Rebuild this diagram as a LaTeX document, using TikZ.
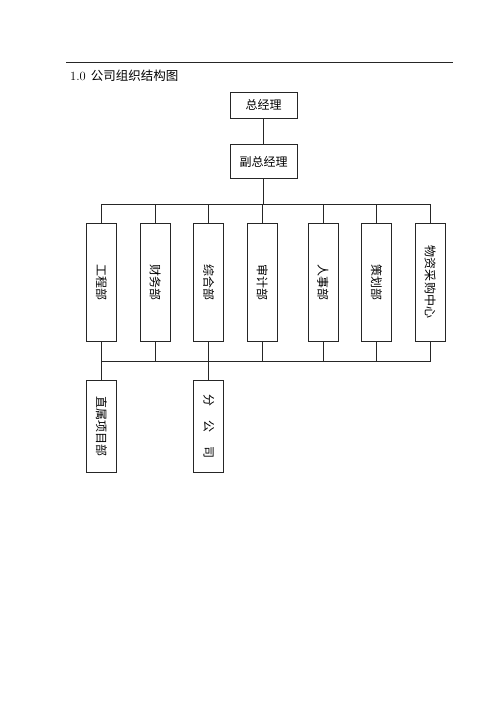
\documentclass[tikz,border=0pt]{standalone}
\usepackage{fontspec}
\usepackage{graphicx}
\newfontfamily\cjk{Noto Sans CJK SC}
\usetikzlibrary{positioning}

\begin{document}
\begin{tikzpicture}[
                x=1pt, y=-1pt,
                link/.style={line width=0.6pt, draw=black!85},
                box/.style={link, inner sep=0pt, font=\cjk\fontsize{12}{12}\selectfont},
                head/.style={box, minimum width=67pt, minimum height=26pt},
                head2/.style={box, minimum width=67pt, minimum height=34pt},
                dept/.style={box, minimum width=30pt, minimum height=118pt},
                sub/.style={box, minimum width=30pt, minimum height=92pt},
            ]
            \useasboundingbox (0,0) rectangle (500,708);

            \coordinate (rule_left) at (66,62);
            \coordinate (rule_right) at (453,62);
            \draw[link] (rule_left) -- (rule_right);
            \node[anchor=west, inner sep=0pt, font=\fontsize{12.5}{12.5}\selectfont] (title) at (70,76) {1.0\hspace{5pt}{\cjk 公司组织结构图}};

            \node[head] (gm) at (263.5,105) {总经理};
            \node[below=26pt of gm, head2] (vice) {副总经理};

            \node[dept] (eng) at (101.5,282) {\rotatebox{-90}{工程部}};
            \node[right=23pt of eng, dept] (finance) {\rotatebox{-90}{财务部}};
            \node[right=23pt of finance, dept] (general) {\rotatebox{-90}{综合部}};
            \node[right=23pt of general, dept] (audit) {\rotatebox{-90}{审计部}};
            \node[right=30pt of audit, dept] (hr) {\rotatebox{-90}{人事部}};
            \node[right=23pt of hr, dept] (planning) {\rotatebox{-90}{策划部}};
            \node[right=23pt of planning, dept] (purchase) {\rotatebox{-90}{物资采购中心}};

            \node[below=39pt of eng, sub] (project) {\rotatebox{-90}{直属项目部}};
            \node[below=39pt of general, sub] (branch) {\rotatebox{-90}{分\hspace{14pt}公\hspace{14pt}司}};

            \coordinate[below=25pt of vice] (top_bus);
            \coordinate[below=20pt of eng] (low_bus);

            \draw[link] (gm) -- (vice);
            \draw[link] (vice) -- (top_bus);
            \draw[link] (eng.north) |- (top_bus -| purchase) -- (purchase.north);
            \draw[link] (finance.north) -- (finance.north |- top_bus);
            \draw[link] (general.north) -- (general.north |- top_bus);
            \draw[link] (audit.north) -- (audit.north |- top_bus);
            \draw[link] (hr.north) -- (hr.north |- top_bus);
            \draw[link] (planning.north) -- (planning.north |- top_bus);

            \draw[link] (eng.south) -- (project.north);
            \draw[link] (general.south) -- (branch.north);
            \draw[link] (low_bus -| eng) -| (purchase.south);
            \draw[link] (finance.south) -- (finance.south |- low_bus);
            \draw[link] (audit.south) -- (audit.south |- low_bus);
            \draw[link] (hr.south) -- (hr.south |- low_bus);
            \draw[link] (planning.south) -- (planning.south |- low_bus);
        \end{tikzpicture}
\end{document}
